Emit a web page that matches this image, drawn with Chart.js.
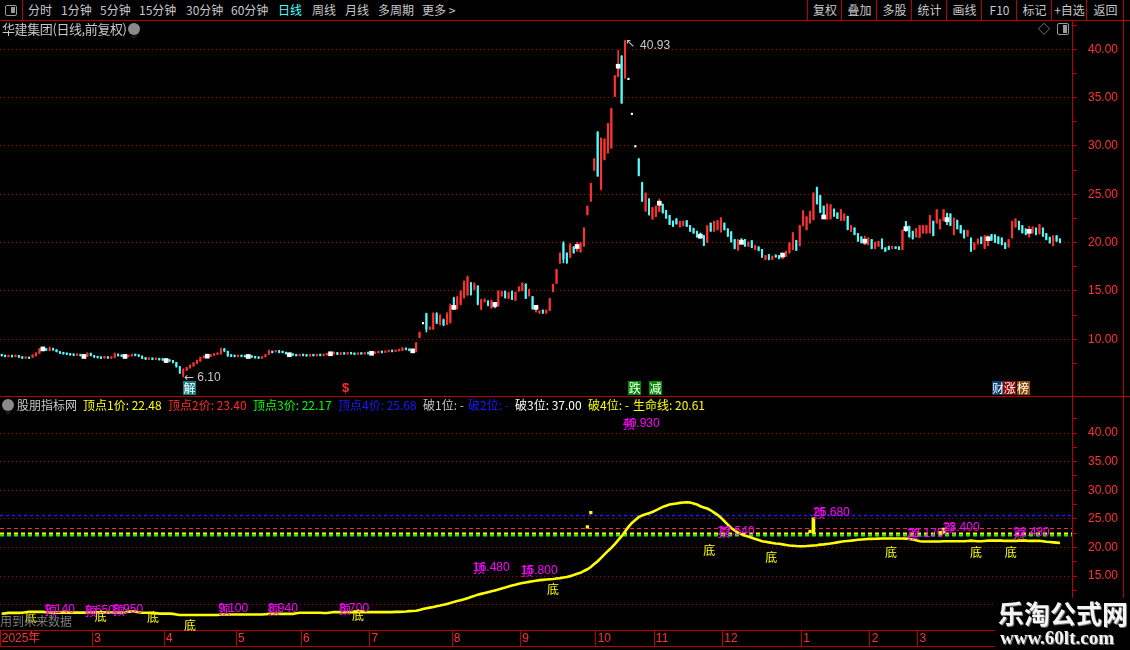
<!DOCTYPE html>
<html lang="zh-CN">
<head>
<meta charset="utf-8">
<title>华建集团 日线</title>
<script src="https://cdn.jsdelivr.net/npm/chart.js@4.4.1/dist/chart.umd.min.js"></script>
<style>
  html, body { margin:0; padding:0; background:#000; }
  body { width:1130px; height:650px; position:relative; overflow:hidden;
         font-family:"Noto Sans CJK SC","Liberation Sans",sans-serif; color:#c8c8c8; }
  .a { position:absolute; white-space:nowrap; }
  .tool { top:3px; font-size:12px; line-height:14px; }
  .btn { position:absolute; top:0; height:20px; border-left:1px solid #b40000; font-size:12px; line-height:20px; text-align:center; color:#c8c8c8; }
  .hl { position:absolute; height:1px; background:#b40000; }
  .vl { position:absolute; width:1px; background:#b40000; }
  .hd { top:398px; font-size:12px; line-height:14px; }
  canvas { position:absolute; left:0; }
  .circ { position:absolute; width:12px; height:12px; border-radius:6px; background:#8a8a8a; }
</style>
</head>
<body>
<canvas id="priceChart" width="1130" height="375" style="top:21px;width:1130px;height:375px"></canvas>
<canvas id="subChart" width="1130" height="253" style="top:397px;width:1130px;height:253px"></canvas>

<!-- toolbar -->
<div class="hl" style="left:0;top:20px;width:1130px"></div>
<div class="vl" style="left:22px;top:0;height:20px"></div>
<div class="a" style="left:5px;top:5px;width:10px;height:9px;border:1px solid #9a9a9a;border-radius:2px"></div>
<div class="a" style="left:11px;top:7px;width:4px;height:6px;background:#9a9a9a"></div>
<div class="a tool" style="left:28px">分时</div>
<div class="a tool" style="left:61px">1分钟</div>
<div class="a tool" style="left:100px">5分钟</div>
<div class="a tool" style="left:139px">15分钟</div>
<div class="a tool" style="left:186px">30分钟</div>
<div class="a tool" style="left:231px">60分钟</div>
<div class="a tool" style="left:278px;color:#54ffff">日线</div>
<div class="a tool" style="left:312px">周线</div>
<div class="a tool" style="left:345px">月线</div>
<div class="a tool" style="left:378px">多周期</div>
<div class="a tool" style="left:422px">更多 &gt;</div>
<div class="btn" style="left:807px;width:34px">复权</div>
<div class="btn" style="left:841px;width:35px">叠加</div>
<div class="btn" style="left:876px;width:35px">多股</div>
<div class="btn" style="left:911px;width:35px">统计</div>
<div class="btn" style="left:946px;width:35px">画线</div>
<div class="btn" style="left:981px;width:35px">F10</div>
<div class="btn" style="left:1016px;width:35px">标记</div>
<div class="btn" style="left:1051px;width:35px">+自选</div>
<div class="btn" style="left:1086px;width:37px">返回</div>
<div class="vl" style="left:1123px;top:0;height:650px"></div>

<!-- title row -->
<div class="a" style="left:2px;top:21px;font-size:13px;line-height:16px;letter-spacing:-0.4px">华建集团(日线,前复权)</div>
<div class="circ" style="left:128px;top:23px"><svg width="12" height="12"><path d="M3.5 5 L6 7.5 L8.5 5" stroke="#222" stroke-width="1.6" fill="none"/></svg></div>
<div class="a" style="left:1038px;top:21px;font-size:12px;line-height:16px;color:#9a9a9a">◇</div>
<div class="a" style="left:1057px;top:23px;width:10px;height:10px;border:1px solid #9a9a9a;border-radius:2px"></div>
<div class="a" style="left:1063px;top:25px;width:4px;height:8px;background:#9a9a9a"></div>

<!-- panel divider -->
<div class="hl" style="left:0;top:396px;width:1130px"></div>

<!-- sub header -->
<div class="circ" style="left:2px;top:399px"><svg width="12" height="12"><path d="M3.5 5 L6 7.5 L8.5 5" stroke="#222" stroke-width="1.6" fill="none"/></svg></div>
<div id="subHead"></div>

<div class="a" style="left:0;top:614px;font-size:12px;line-height:14px;color:#7c7c7c">用到未来数据</div>
<div class="hl" style="left:0;top:646px;width:995px"></div>

<!-- watermark -->
<div class="a" style="left:995px;top:598px;width:135px;height:52px;background:#000"></div>
<div class="a" style="left:998px;top:598px;font-size:26px;line-height:30px;font-weight:bold;color:#f4f4f4;text-shadow:1px 1px 0 #777">乐淘公式网</div>
<div class="a" style="left:1000px;top:628px;font-family:'Liberation Serif',serif;font-size:19px;line-height:20px;font-weight:bold;color:#f4f4f4;text-shadow:1px 1px 0 #777">www.60lt.com</div>

<script>
// ---- slots on the shared time axis (trading days, plus a little room at the right) ----
const slotCount = 313;
const slots = Array.from({ length: slotCount }, (_, i) => i);
const monthIdx = [0, 27, 48, 69, 88, 108, 132, 152, 174, 191, 211, 234, 254, 268];
const monthLabels = ['2025年', '3', '4', '5', '6', '7', '8', '9', '10', '11', '12', '1', '2', '3'];

// ---- daily candles (前复权) ----
const openP = [
  8.35, 8.30, 8.20, 8.28, 8.22, 8.30, 8.12, 8.05, 8.10, 8.15, 8.30, 8.55,
  8.95, 9.00, 8.85, 9.05, 8.90, 8.70, 8.58, 8.50, 8.45, 8.40, 8.35, 8.42,
  8.30, 8.22, 8.55, 8.30, 8.15, 8.10, 8.08, 8.12, 8.05, 8.10, 8.45, 8.32,
  8.25, 8.22, 8.30, 8.40, 8.32, 8.25, 8.05, 7.95, 8.00, 7.92, 7.98, 7.90,
  7.85, 7.80, 7.78, 7.60, 7.15, 6.40, 6.80, 7.05, 7.25, 7.50, 7.75, 8.10,
  8.22, 8.25, 8.35, 8.45, 8.50, 9.00, 8.75, 8.35, 8.28, 8.22, 8.30, 8.25,
  8.20, 8.25, 8.18, 8.10, 8.05, 8.20, 8.45, 8.75, 8.70, 8.80, 8.72, 8.65,
  8.45, 8.40, 8.36, 8.30, 8.35, 8.32, 8.28, 8.35, 8.30, 8.38, 8.32, 8.40,
  8.45, 8.50, 8.60, 8.45, 8.52, 8.48, 8.55, 8.50, 8.45, 8.52, 8.48, 8.55,
  8.52, 8.55, 8.62, 8.68, 8.65, 8.72, 8.78, 8.75, 8.82, 8.85, 9.05, 8.95,
  8.85, 8.75, 10.20, 11.60, 12.65, 11.05, 11.10, 12.65, 11.60, 12.00, 11.55, 11.75,
  14.20, 13.20, 13.60, 14.30, 14.60, 15.80, 15.20, 15.50, 13.15, 13.90, 13.95, 13.25,
  13.75, 13.45, 14.50, 14.95, 14.25, 14.95, 14.05, 15.00, 15.05, 15.70, 14.50, 14.40,
  12.90, 12.72, 13.00, 12.72, 13.00, 14.95, 15.80, 17.90, 19.90, 18.90, 18.50, 19.55,
  19.15, 19.05, 19.65, 22.90, 24.30, 27.50, 31.40, 25.60, 28.60, 29.30, 29.80, 35.15,
  37.20, 39.30, 37.05, 36.86, 33.24, 29.90, 28.65, 26.20, 23.30, 24.50, 22.45, 22.72,
  23.25, 23.95, 23.30, 22.80, 22.20, 22.45, 21.65, 21.78, 22.25, 21.76, 21.45, 21.15,
  20.90, 20.70, 20.05, 22.00, 21.20, 21.35, 21.12, 22.00, 21.40, 21.10, 20.30, 19.25,
  20.38, 20.30, 19.65, 20.18, 19.30, 19.55, 19.28, 18.28, 18.75, 18.26, 18.70, 18.65,
  18.36, 18.60, 18.95, 19.30, 20.20, 19.70, 21.78, 21.36, 22.05, 22.40, 25.70, 24.85,
  23.75, 22.45, 22.48, 23.45, 23.05, 22.32, 22.32, 22.70, 21.18, 21.50, 20.90, 20.58,
  19.80, 19.80, 20.30, 19.40, 19.64, 20.36, 19.45, 19.60, 19.40, 19.55, 19.54, 19.30,
  22.15, 21.68, 21.15, 20.60, 20.56, 21.02, 21.00, 21.02, 22.20, 22.05, 21.44, 22.28,
  23.00, 22.95, 20.85, 22.30, 21.75, 21.26, 20.68, 20.46, 19.30, 19.88, 20.56, 19.40,
  19.70, 20.82, 20.78, 20.58, 20.46, 19.96, 19.56, 20.50, 21.62, 22.18, 21.74, 21.40,
  20.60, 21.02, 21.50, 20.92, 21.50, 20.92, 20.54, 19.70, 20.70, 20.38
];
const closeP = [
  8.30, 8.22, 8.28, 8.20, 8.30, 8.15, 8.05, 8.10, 8.02, 8.35, 8.55, 8.95,
  9.00, 8.88, 9.08, 8.90, 8.72, 8.55, 8.50, 8.45, 8.38, 8.35, 8.42, 8.30,
  8.22, 8.55, 8.32, 8.15, 8.10, 8.05, 8.12, 8.06, 8.10, 8.48, 8.30, 8.25,
  8.22, 8.30, 8.40, 8.32, 8.26, 8.05, 7.95, 8.02, 7.92, 7.98, 7.88, 7.85,
  7.80, 7.75, 7.62, 7.20, 6.55, 6.85, 7.05, 7.30, 7.55, 7.80, 8.10, 8.22,
  8.25, 8.35, 8.45, 8.50, 9.00, 8.80, 8.30, 8.25, 8.22, 8.28, 8.22, 8.20,
  8.22, 8.15, 8.08, 8.05, 8.20, 8.40, 8.80, 8.62, 8.75, 8.65, 8.62, 8.50,
  8.40, 8.36, 8.30, 8.35, 8.32, 8.28, 8.35, 8.30, 8.38, 8.32, 8.40, 8.45,
  8.50, 8.62, 8.45, 8.55, 8.48, 8.55, 8.50, 8.45, 8.52, 8.48, 8.55, 8.52,
  8.55, 8.62, 8.70, 8.64, 8.72, 8.78, 8.74, 8.82, 8.88, 9.05, 8.95, 8.85,
  8.80, 9.60, 10.70, 11.60, 11.05, 11.20, 12.65, 11.70, 12.40, 11.50, 12.60, 13.50,
  13.30, 14.30, 14.95, 15.95, 16.40, 14.65, 15.70, 13.65, 14.05, 14.10, 13.55, 13.95,
  13.60, 14.95, 14.90, 14.30, 14.80, 14.15, 14.85, 15.40, 15.80, 14.25, 15.15, 13.15,
  13.30, 12.92, 12.72, 13.00, 14.20, 15.65, 17.20, 18.90, 18.30, 17.95, 19.80, 18.95,
  19.60, 19.95, 21.45, 23.75, 26.10, 28.65, 26.90, 30.80, 30.70, 32.30, 33.85, 37.25,
  38.25, 34.45, 40.80, 36.86, 33.24, 29.90, 26.95, 24.30, 25.10, 22.90, 23.60, 23.75,
  24.08, 23.08, 22.55, 21.88, 21.70, 21.95, 22.18, 22.20, 21.70, 21.18, 21.00, 20.62,
  20.66, 19.72, 21.75, 21.20, 22.18, 22.25, 22.50, 21.35, 20.68, 20.08, 19.40, 20.30,
  20.03, 19.65, 20.05, 19.50, 19.70, 19.20, 18.50, 18.64, 18.28, 18.58, 18.52, 18.36,
  18.72, 19.08, 19.95, 21.00, 19.22, 21.75, 23.28, 22.65, 23.22, 25.10, 24.02, 23.15,
  22.65, 23.98, 23.90, 22.75, 22.52, 23.40, 22.95, 21.36, 21.75, 20.85, 20.16, 20.00,
  20.15, 20.46, 19.40, 20.02, 20.12, 19.40, 19.12, 19.30, 19.60, 19.40, 19.30, 21.26,
  21.45, 20.60, 20.40, 21.44, 21.74, 21.74, 21.75, 22.78, 20.74, 23.38, 22.36, 23.38,
  22.38, 21.78, 22.52, 21.44, 21.02, 20.50, 21.26, 19.12, 19.95, 20.36, 19.92, 20.70,
  20.40, 20.26, 20.05, 19.92, 19.80, 19.40, 20.30, 22.18, 22.44, 21.36, 21.02, 20.85,
  21.17, 21.60, 20.85, 21.84, 20.68, 20.32, 19.98, 20.70, 20.16, 20.00
];
const highP = [
  8.42, 8.35, 8.32, 8.34, 8.36, 8.34, 8.18, 8.14, 8.14, 8.42, 8.62, 9.05,
  9.08, 9.05, 9.20, 9.10, 8.95, 8.75, 8.62, 8.55, 8.50, 8.45, 8.48, 8.45,
  8.35, 8.62, 8.58, 8.35, 8.20, 8.15, 8.16, 8.16, 8.14, 8.58, 8.50, 8.36,
  8.30, 8.34, 8.45, 8.45, 8.36, 8.28, 8.10, 8.06, 8.05, 8.02, 8.02, 7.95,
  7.90, 7.85, 7.82, 7.62, 7.20, 6.95, 7.10, 7.35, 7.60, 7.85, 8.15, 8.28,
  8.30, 8.40, 8.50, 8.55, 9.10, 9.05, 8.78, 8.40, 8.32, 8.32, 8.34, 8.30,
  8.28, 8.28, 8.22, 8.14, 8.24, 8.45, 8.88, 8.78, 8.80, 8.85, 8.76, 8.68,
  8.50, 8.44, 8.40, 8.38, 8.40, 8.36, 8.38, 8.40, 8.42, 8.42, 8.44, 8.50,
  8.55, 8.68, 8.65, 8.60, 8.56, 8.60, 8.58, 8.55, 8.58, 8.56, 8.60, 8.58,
  8.60, 8.66, 8.75, 8.72, 8.76, 8.82, 8.82, 8.86, 8.92, 9.15, 9.10, 9.00,
  8.90, 9.65, 10.75, 11.62, 12.70, 11.30, 12.75, 12.75, 12.55, 12.10, 12.75, 13.65,
  14.35, 14.45, 15.05, 16.05, 16.55, 15.90, 15.85, 15.55, 14.15, 14.20, 14.00, 14.05,
  13.80, 15.05, 14.95, 15.00, 14.85, 15.00, 14.90, 15.45, 15.85, 15.75, 15.20, 14.45,
  13.40, 12.95, 13.05, 13.05, 14.25, 15.70, 17.25, 18.95, 20.10, 18.95, 19.90, 19.60,
  20.05, 20.05, 21.55, 23.80, 26.15, 28.70, 31.50, 30.85, 30.75, 32.35, 33.90, 37.30,
  39.90, 39.35, 40.93, 36.86, 33.24, 29.90, 28.70, 26.25, 25.15, 24.55, 23.65, 23.80,
  24.52, 24.00, 23.35, 22.85, 22.25, 22.50, 22.22, 22.25, 22.30, 21.80, 21.50, 21.20,
  21.00, 20.75, 21.78, 22.05, 22.22, 22.30, 22.58, 22.05, 21.45, 21.15, 20.35, 20.32,
  20.40, 20.33, 20.08, 20.22, 19.74, 19.58, 19.30, 18.68, 18.78, 18.62, 18.74, 18.68,
  18.75, 19.12, 20.00, 21.05, 20.25, 21.80, 23.32, 22.70, 23.26, 25.18, 25.75, 24.90,
  23.80, 24.02, 23.95, 23.50, 23.10, 23.45, 23.00, 22.75, 21.80, 21.55, 20.95, 20.62,
  20.66, 20.50, 20.34, 20.06, 20.16, 20.40, 19.48, 19.64, 19.64, 19.58, 19.58, 21.30,
  22.20, 21.72, 21.20, 21.48, 21.78, 21.78, 21.78, 22.82, 22.24, 23.42, 22.40, 23.42,
  23.05, 23.00, 22.56, 22.34, 21.80, 21.30, 21.30, 20.50, 20.00, 20.40, 20.60, 20.74,
  20.72, 20.86, 20.82, 20.62, 20.50, 20.00, 20.34, 22.22, 22.48, 22.22, 21.78, 21.44,
  21.69, 21.64, 21.54, 21.88, 21.54, 20.96, 20.58, 20.74, 20.74, 20.40
];
const lowP = [
  8.25, 8.18, 8.16, 8.16, 8.18, 8.10, 8.00, 8.00, 7.98, 8.10, 8.26, 8.50,
  8.90, 8.82, 8.80, 8.85, 8.68, 8.50, 8.45, 8.40, 8.34, 8.30, 8.30, 8.26,
  8.18, 8.20, 8.28, 8.12, 8.05, 8.00, 8.02, 8.02, 8.00, 8.08, 8.25, 8.20,
  8.15, 8.18, 8.26, 8.28, 8.20, 8.00, 7.90, 7.90, 7.88, 7.88, 7.84, 7.80,
  7.75, 7.70, 7.55, 7.10, 6.45, 6.10, 6.75, 7.00, 7.20, 7.45, 7.70, 8.05,
  8.18, 8.20, 8.32, 8.40, 8.45, 8.70, 8.22, 8.20, 8.18, 8.18, 8.18, 8.15,
  8.15, 8.12, 8.04, 8.00, 8.02, 8.16, 8.42, 8.58, 8.66, 8.60, 8.58, 8.45,
  8.38, 8.34, 8.26, 8.26, 8.28, 8.24, 8.25, 8.26, 8.26, 8.28, 8.28, 8.36,
  8.40, 8.46, 8.40, 8.42, 8.44, 8.44, 8.46, 8.40, 8.42, 8.44, 8.45, 8.46,
  8.48, 8.50, 8.58, 8.60, 8.62, 8.68, 8.70, 8.72, 8.78, 8.82, 8.90, 8.80,
  8.75, 8.70, 10.15, 11.58, 10.75, 11.00, 11.00, 11.60, 11.45, 11.40, 11.50, 11.65,
  13.10, 13.10, 13.55, 14.25, 14.55, 14.55, 15.10, 13.55, 13.05, 13.85, 13.45, 13.20,
  13.25, 13.40, 14.45, 14.25, 14.20, 14.10, 14.00, 14.95, 15.00, 14.20, 14.45, 13.10,
  12.80, 12.68, 12.68, 12.68, 12.95, 14.90, 15.75, 17.85, 17.90, 17.85, 18.45, 18.90,
  19.10, 19.00, 19.60, 22.85, 24.25, 27.45, 26.85, 25.45, 28.55, 29.25, 29.75, 35.10,
  37.15, 34.40, 37.00, 36.86, 33.24, 29.90, 26.90, 24.25, 23.20, 22.85, 22.40, 22.68,
  23.20, 23.05, 22.50, 21.85, 21.65, 21.90, 21.60, 21.72, 21.65, 21.15, 20.95, 20.55,
  20.50, 19.68, 20.00, 21.15, 21.15, 21.30, 21.08, 21.30, 20.62, 20.05, 19.35, 19.20,
  19.88, 19.60, 19.60, 19.46, 19.26, 19.15, 18.46, 18.22, 18.22, 18.22, 18.48, 18.32,
  18.32, 18.56, 18.90, 19.25, 19.18, 19.65, 21.74, 21.30, 22.00, 22.35, 23.98, 23.10,
  22.60, 22.40, 22.42, 22.70, 22.48, 22.28, 22.28, 21.32, 21.14, 20.80, 20.12, 19.95,
  19.78, 19.76, 19.36, 19.36, 19.60, 19.36, 19.08, 19.26, 19.36, 19.36, 19.26, 19.26,
  21.15, 20.56, 20.36, 20.56, 20.52, 20.98, 20.96, 20.98, 20.70, 22.00, 21.40, 22.24,
  21.86, 21.74, 20.80, 21.40, 20.98, 20.46, 20.64, 19.08, 19.26, 19.84, 19.88, 19.36,
  19.68, 20.22, 20.00, 19.88, 19.76, 19.36, 19.52, 20.46, 21.58, 21.32, 20.98, 20.80,
  20.56, 20.98, 20.80, 20.88, 20.64, 20.28, 19.94, 19.66, 20.12, 19.96
];
// white marks drawn on every 12th bar
const markIdx = [12, 24, 36, 48, 60, 72, 84, 96, 108, 120, 132, 144, 156, 168, 180, 192, 204, 216, 228, 240, 252, 264, 276, 288, 300];

// ---- 股朋指标网: 生命线 ----
const lifeLine = [
  8.45, 8.50, 8.58, 8.58, 8.58, 8.58, 8.60, 8.70, 8.75, 8.75, 8.75, 8.75,
  8.75, 8.72, 8.65, 8.62, 8.62, 8.62, 8.62, 8.62, 8.62, 8.62, 8.62, 8.62,
  8.62, 8.65, 8.65, 8.65, 8.65, 8.65, 8.65, 8.65, 8.65, 8.65, 8.65, 8.65,
  8.70, 8.80, 8.80, 8.80, 8.70, 8.60, 8.60, 8.60, 8.60, 8.55, 8.45, 8.45,
  8.45, 8.45, 8.40, 8.30, 8.20, 8.20, 8.20, 8.20, 8.20, 8.20, 8.20, 8.20,
  8.20, 8.20, 8.20, 8.22, 8.30, 8.30, 8.30, 8.30, 8.30, 8.30, 8.30, 8.30,
  8.30, 8.30, 8.30, 8.30, 8.30, 8.35, 8.40, 8.40, 8.40, 8.40, 8.40, 8.40,
  8.40, 8.40, 8.50, 8.60, 8.60, 8.60, 8.60, 8.60, 8.60, 8.60, 8.55, 8.55,
  8.65, 8.72, 8.72, 8.72, 8.72, 8.72, 8.72, 8.72, 8.72, 8.72, 8.72, 8.72,
  8.72, 8.72, 8.72, 8.72, 8.72, 8.72, 8.72, 8.75, 8.75, 8.78, 8.82, 8.88,
  8.90, 8.95, 9.10, 9.25, 9.40, 9.50, 9.60, 9.75, 9.86, 10.00, 10.15, 10.30,
  10.50, 10.65, 10.80, 10.95, 11.15, 11.35, 11.55, 11.75, 11.90, 12.05, 12.20, 12.35,
  12.50, 12.66, 12.85, 13.00, 13.20, 13.35, 13.50, 13.65, 13.80, 13.90, 14.00, 14.10,
  14.20, 14.30, 14.35, 14.40, 14.45, 14.50, 14.60, 14.65, 14.75, 14.85, 15.00, 15.20,
  15.40, 15.57, 15.90, 16.20, 16.60, 17.10, 17.60, 18.20, 18.80, 19.40, 19.94, 20.60,
  21.30, 21.98, 22.80, 23.60, 24.30, 24.80, 25.30, 25.60, 25.80, 26.00, 26.20, 26.50,
  26.80, 27.10, 27.30, 27.50, 27.60, 27.70, 27.80, 27.85, 27.90, 27.85, 27.70, 27.50,
  27.20, 27.00, 26.80, 26.50, 26.10, 25.70, 25.20, 24.60, 24.00, 23.40, 23.00, 22.60,
  22.30, 22.10, 21.90, 21.70, 21.50, 21.30, 21.10, 21.00, 20.90, 20.80, 20.70, 20.65,
  20.55, 20.45, 20.35, 20.30, 20.25, 20.23, 20.23, 20.25, 20.30, 20.35, 20.40, 20.50,
  20.55, 20.62, 20.70, 20.80, 20.90, 21.00, 21.08, 21.15, 21.20, 21.28, 21.35, 21.40,
  21.45, 21.50, 21.50, 21.52, 21.55, 21.57, 21.57, 21.57, 21.57, 21.57, 21.57, 21.57,
  21.55, 21.50, 21.40, 21.25, 21.10, 21.05, 21.05, 21.05, 21.05, 21.05, 21.05, 21.08,
  21.10, 21.08, 21.08, 21.08, 21.08, 21.10, 21.15, 21.20, 21.15, 21.10, 21.10, 21.15,
  21.20, 21.20, 21.20, 21.20, 21.20, 21.15, 21.15, 21.15, 21.15, 21.20, 21.20, 21.20,
  21.15, 21.15, 21.15, 21.15, 21.10, 21.00, 20.95, 20.90, 20.85, 20.80
];
const topNames = ['顶点1价', '顶点2价', '顶点3价', '顶点4价'];
const topPrices = [22.48, 23.40, 22.17, 25.68];
const breakNames = ['破1位', '破2位', '破3位', '破4位'];
const breakPrices = [null, null, 37.00, null];
const lifeNow = 20.61;

// 顶 / 底 marks of the indicator
const annoIdx  = [6.8, 12.6, 24.3, 27.2, 32.5, 42.4, 53.2, 63.2, 77.7, 98.5, 102.3, 137.6, 151.6, 159.2, 181.4, 204.8, 209.1, 222.9, 236.9, 257.9, 264.3, 274.8, 282.7, 292.9, 295.3];
const annoVal  = [7.86, 9.08, 8.9, 8.03, 9.08, 7.86, 6.46, 9.26, 9.26, 9.26, 8.21, 16.42, 15.9, 12.75, 41.57, 19.56, 22.71, 18.34, 26.03, 19.21, 22.36, 23.41, 19.21, 19.21, 22.53];
const annoKind = ['底', '顶', '顶', '底', '顶', '底', '底', '顶', '顶', '顶', '底', '顶', '顶', '底', '顶', '底', '顶', '底', '顶', '底', '顶', '顶', '底', '底', '顶'];
const annoNum  = ['', '9.140', '8.650', '', '8.950', '', '', '9.100', '8.940', '8.700', '', '16.480', '15.800', '', '40.930', '', '22.540', '', '25.680', '', '22.170', '23.400', '', '', '22.480'];
// yellow sticks and dots of the indicator
const stickIdx = [237, 275];
const stickLo  = [22.5, 22.4];
const stickHi  = [25.2, 23.4];
const dotIdx   = [171, 172, 236, 274];
const dotVal   = [23.6, 26.1, 22.8, 22.6];

// signal tags under the candles
const sigIdx  = [54.8, 100.4, 184.8, 190.9, 291.0, 294.3, 298.2];
const sigText = ['解', '$', '跌', '减', '财', '涨', '榜'];

// axis ticks
const priceTicks = [7.5, 10, 12.5, 15, 17.5, 20, 22.5, 25, 27.5, 30, 32.5, 35, 37.5, 40, 42.5];
const subTicks   = [7.5, 10, 12.5, 15, 17.5, 20, 22.5, 25, 27.5, 30, 32.5, 35, 37.5, 40, 42.5];

// ---------------------------------------------------------------------------
const RED = '#ff3232', CYAN = '#54fcfc', AXIS = '#b40000', GRID = '#9a0000';
const sigBg = ['#137c7c', null, '#008a00', '#008a00', '#0c3c74', '#8c0000', '#8c4a00'];
const sigFg = ['#ffffff', '#ff2a2a', '#ffffff', '#ffffff', '#ffffff', '#ffffff', '#ffffff'];
const topColors = ['#ffff00', '#ff2a2a', '#00ff00', '#1a1aff'];
const breakColors = ['#c8c8c8', '#1a1aff', '#ffffff', '#ffff00'];

// sub header text
(function () {
  const head = document.getElementById('subHead');
  const lefts = [83, 168, 253, 338];
  const bLefts = [423, 468, 515, 588];
  const add = (txt, left, color) => {
    const d = document.createElement('div');
    d.className = 'a hd';
    d.style.left = left + 'px';
    d.style.color = color;
    d.textContent = txt;
    head.appendChild(d);
  };
  add('股朋指标网', 17, '#c8c8c8');
  topNames.forEach((n, k) => add(n + ': ' + topPrices[k].toFixed(2), lefts[k], topColors[k]));
  breakNames.forEach((n, k) => add(n + ': ' + (breakPrices[k] == null ? '-' : breakPrices[k].toFixed(2)), bLefts[k], breakColors[k]));
  add('生命线: ' + lifeNow.toFixed(2), 633, '#ffff00');
})();

const candleColors = openP.map((o, i) => closeP[i] > o ? RED : (closeP[i] < o ? CYAN : '#ffffff'));
const markVals = slots.map(i => markIdx.includes(i) ? closeP[i] : null);
let lowIdx = 0, highIdx = 0;
lowP.forEach((v, i) => { if (v < lowP[lowIdx]) lowIdx = i; });
highP.forEach((v, i) => { if (v > highP[highIdx]) highIdx = i; });

function yAxis(min, max, tickVals) {
  return {
    position: 'right', min: min, max: max,
    afterBuildTicks: s => { s.ticks = tickVals.map(v => ({ value: v })); },
    afterFit: s => { s.width = 58; s.paddingTop = 0; s.paddingBottom = 0; },
    grid: {
      color: c => (c.tick && c.tick.value % 5 === 0) ? GRID : 'rgba(0,0,0,0)',
      lineWidth: 1, tickLength: 5, tickColor: AXIS, drawTicks: true
    },
    border: { display: true, color: AXIS, width: 1, dash: [1, 3] },
    ticks: {
      autoSkip: false,
      color: RED, padding: 11, font: { family: 'Liberation Sans', size: 12 },
      callback: v => (v % 5 === 0 && v >= 10 && v <= 40) ? v.toFixed(2) : ''
    }
  };
}

const priceOverlay = {
  id: 'priceOverlay',
  afterDatasetsDraw(chart) {
    const { ctx, chartArea: a, scales: { x, y } } = chart;
    ctx.save();
    ctx.fillStyle = '#c8c8c8';
    ctx.textAlign = 'left';
    ctx.textBaseline = 'middle';
    const lx = x.getPixelForValue(lowIdx), ly = y.getPixelForValue(lowP[lowIdx]);
    ctx.font = '12px "DejaVu Sans"';
    ctx.fillText('←', lx + 1, ly + 1);
    ctx.font = '12px "Liberation Sans"';
    ctx.fillText(lowP[lowIdx].toFixed(2), lx + 14, ly + 1);
    const hx = x.getPixelForValue(highIdx), hy = y.getPixelForValue(highP[highIdx]);
    ctx.font = '12px "DejaVu Sans"';
    ctx.fillText('↖', hx, hy + 4);
    ctx.font = '12px "Liberation Sans"';
    ctx.fillText(highP[highIdx].toFixed(2), hx + 15, hy + 5);

    ctx.textAlign = 'center';
    ctx.font = '12px "Noto Sans CJK SC"';
    const top = a.bottom - 15;
    sigIdx.forEach((idx, k) => {
      const cx = x.getPixelForValue(idx);
      if (sigBg[k]) {
        ctx.fillStyle = sigBg[k];
        ctx.fillRect(Math.round(cx - 6.5), top, 13, 14);
      }
      ctx.fillStyle = sigFg[k];
      if (!sigBg[k]) ctx.font = 'bold 13px "Liberation Sans"';
      ctx.fillText(sigText[k], cx, top + 7.5);
      ctx.font = '12px "Noto Sans CJK SC"';
    });
    ctx.restore();
  }
};

new Chart(document.getElementById('priceChart'), {
  type: 'bar',
  data: {
    labels: slots,
    datasets: [
      { type: 'line', label: '标记', data: markVals, showLine: false, pointStyle: 'rect',
        pointRadius: 3.3, pointBackgroundColor: '#ffffff', pointBorderWidth: 0, order: 0 },
      { label: '实体', data: openP.map((o, i) => [o, closeP[i]]), backgroundColor: candleColors,
        barThickness: 1.4, minBarLength: 1.5, grouped: false, order: 1 },
      { label: '影线', data: lowP.map((l, i) => [l, highP[i]]), backgroundColor: candleColors,
        barThickness: 1, grouped: false, order: 2 }
    ]
  },
  options: {
    responsive: false, animation: false, devicePixelRatio: 1, events: [],
    layout: { padding: 0, autoPadding: false },
    plugins: { legend: { display: false }, tooltip: { enabled: false } },
    scales: {
      x: { display: false, offset: true, grid: { offset: true } },
      y: yAxis(4.13, 42.93, priceTicks)
    }
  },
  plugins: [priceOverlay]
});

const subOverlay = {
  id: 'subOverlay',
  beforeDatasetsDraw(chart) {
    const { ctx, chartArea: a, scales: { y } } = chart;
    const drawOrder = [3, 1, 2, 0];
    const widths = [2, 1, 2, 1.5];
    const dashes = [[4, 3], [4, 3], [4, 3], [3, 3]];
    ctx.save();
    drawOrder.forEach(k => {
      const py = Math.round(y.getPixelForValue(topPrices[k])) + 0.5;
      ctx.strokeStyle = topColors[k];
      ctx.lineWidth = widths[k];
      ctx.setLineDash(dashes[k]);
      ctx.beginPath();
      ctx.moveTo(a.left, py);
      ctx.lineTo(a.right, py);
      ctx.stroke();
    });
    ctx.restore();
  },
  afterDatasetsDraw(chart) {
    const { ctx, scales: { x, y } } = chart;
    ctx.save();
    ctx.textAlign = 'left';
    ctx.textBaseline = 'middle';
    annoIdx.forEach((idx, k) => {
      const px = x.getPixelForValue(idx), py = y.getPixelForValue(annoVal[k]);
      if (annoKind[k] === '顶') {
        ctx.fillStyle = '#ff00ff';
        ctx.font = '12px "Liberation Sans"';
        ctx.fillText(annoNum[k], px, py);
        ctx.font = '12px "Noto Sans CJK SC"';
        ctx.fillText('顶', px, py);
      } else {
        ctx.fillStyle = '#ffff00';
        ctx.font = '12px "Noto Sans CJK SC"';
        ctx.fillText('底', px, py);
      }
    });
    ctx.restore();
  }
};

new Chart(document.getElementById('subChart'), {
  type: 'line',
  data: {
    labels: slots,
    datasets: [
      { label: '生命线', data: lifeLine, borderColor: '#ffff00', borderWidth: 2.6,
        pointRadius: 0, tension: 0, order: 0 },
      { label: '顶点', data: slots.map(i => { const k = dotIdx.indexOf(i); return k >= 0 ? dotVal[k] : null; }),
        showLine: false, pointStyle: 'rect', pointRadius: 2.3, pointBackgroundColor: '#ffff00',
        pointBorderWidth: 0, order: 1 },
      { type: 'bar', label: '顶柱', data: slots.map(i => { const k = stickIdx.indexOf(i); return k >= 0 ? [stickLo[k], stickHi[k]] : null; }),
        backgroundColor: '#ffff00', barThickness: 3, grouped: false, order: 2 }
    ]
  },
  options: {
    responsive: false, animation: false, devicePixelRatio: 1, events: [],
    layout: { padding: 0, autoPadding: false },
    plugins: { legend: { display: false }, tooltip: { enabled: false } },
    scales: {
      x: {
        type: 'category', offset: true,
        grid: {
          offset: true, drawOnChartArea: false, drawTicks: true, tickLength: 16, tickWidth: 1,
          tickColor: c => monthIdx.includes(c.index) ? AXIS : 'rgba(0,0,0,0)'
        },
        border: { display: true, color: AXIS, width: 1 },
        ticks: {
          autoSkip: false, maxRotation: 0, minRotation: 0, align: 'start', padding: -15,
          color: RED, font: { family: 'Liberation Sans', size: 12 },
          callback: (v, i) => { const k = monthIdx.indexOf(i); return k >= 0 ? monthLabels[k] : ''; }
        },
        afterFit: s => { s.height = 20; s.paddingLeft = 0; s.paddingRight = 0; }
      },
      y: yAxis(5.59, 46.29, subTicks)
    }
  },
  plugins: [subOverlay]
});
</script>
</body>
</html>
